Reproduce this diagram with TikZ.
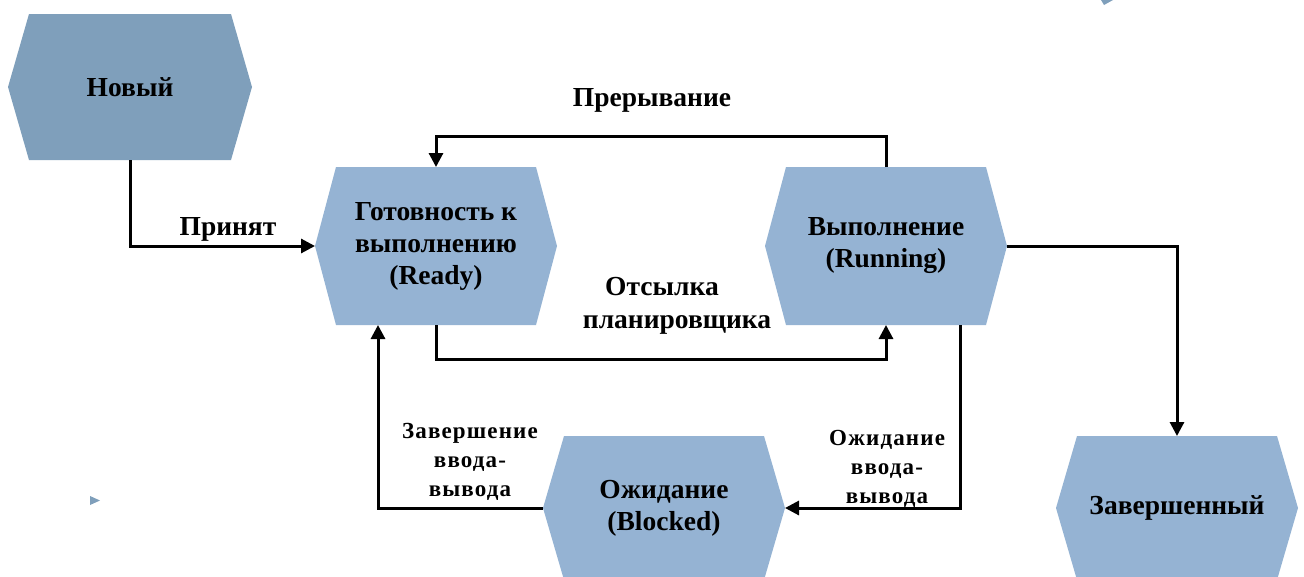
\documentclass[tikz,border=0pt]{standalone}
\usepackage{fontspec}
\setmainfont{Liberation Serif}
\newfontfamily\spacedserif[LetterSpace=5]{Liberation Serif}
\usetikzlibrary{arrows.meta}
\definecolor{hexdark}{HTML}{7F9FBB}
\definecolor{hexlight}{HTML}{95B3D3}
\tikzset{
  hexnode/.style={rectangle, inner sep=0pt, outer sep=0pt, minimum width=242pt,
    align=center, font=\fontsize{27.5}{32}\selectfont\bfseries, text=black,
    path picture={\fill[#1]
      ([xshift=21pt]path picture bounding box.north west) --
      ([xshift=-21pt]path picture bounding box.north east) --
      (path picture bounding box.east) --
      ([xshift=-21pt]path picture bounding box.south east) --
      ([xshift=21pt]path picture bounding box.south west) --
      (path picture bounding box.west) -- cycle;}},
  conn/.style={line width=3pt, -{Triangle[length=14pt,width=14pt]}},
  lab/.style={font=\fontsize{27.5}{33}\selectfont\bfseries, align=center, inner sep=0pt},
  slab/.style={font=\spacedserif\bfseries\fontsize{23}{29}\selectfont, align=center, inner sep=0pt},
  stray/.style={fill=hexdark}
}
\begin{document}
\begin{tikzpicture}[x=1pt,y=-1pt]
\useasboundingbox (0,0) rectangle (1304,576);
% states
\node[hexnode=hexdark, minimum width=244pt, minimum height=146pt] (new) at (130,87) {Новый};
\node[hexnode=hexlight, minimum height=158pt] (ready) at (436,246) {Готовность к\\выполнению\\(Ready)};
\node[hexnode=hexlight, minimum height=158pt] (running) at (886,246) {Выполнение\\(Running)};
\node[hexnode=hexlight, minimum height=144pt] (blocked) at (664,508) {Ожидание\\(Blocked)};
\node[hexnode=hexlight, minimum height=144pt] (done) at (1177,508) {Завершенный};
% connectors
\draw[conn] (new.south) |- (ready.west);
\draw[conn] (running.north) -- ++(0,-31) -| (ready.north);
\draw[conn] (ready.south) -- ++(0,34) -| (running.south);
\draw[conn] ([xshift=74pt]running.south) |- (blocked.east);
\draw[conn] (blocked.west) -| ([xshift=-58pt]ready.south);
\draw[conn] (running.east) -| (done.north);
% labels
\node[lab] (lacc) at (228,229) {Принят};
\node[lab] (lint) at (652,100) {Прерывание};
\node[lab] (lsch) at (677,306) {Отсылка\hspace*{30pt}\\планировщика};
\node[slab] (lwait) at (887,469) {Ожидание\\ввода-\\вывода};
\node[slab] (lfin) at (470,462) {Завершение\\ввода-\\вывода};
% stray marks
\fill[stray] (90,496) -- (100,500.5) -- (90,505) -- cycle;
\fill[stray] (1101,0) -- (1113,0) -- (1104,5) -- cycle;
\end{tikzpicture}
\end{document}
